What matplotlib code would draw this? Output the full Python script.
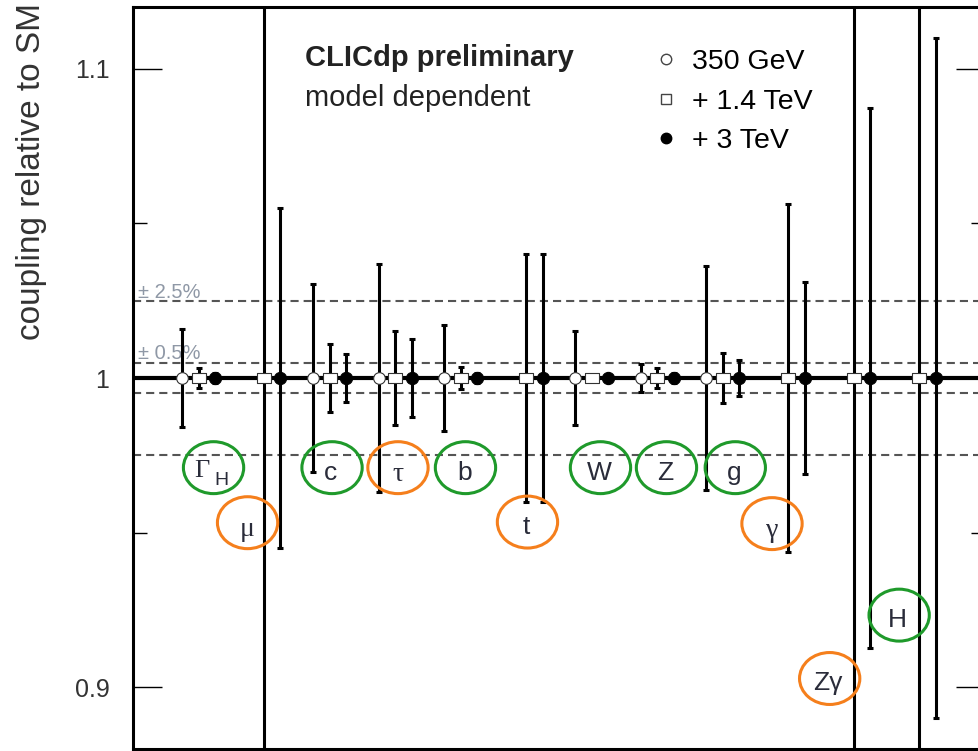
import numpy as np
import matplotlib
matplotlib.use("Agg")
import matplotlib.pyplot as plt
from matplotlib.patches import Ellipse
from matplotlib.lines import Line2D
from matplotlib.path import Path
from matplotlib.ticker import FixedLocator, FuncFormatter

plt.rcParams['font.family'] = ['Liberation Sans', 'DejaVu Sans']

nan = np.nan

# couplings, in plotting order
couplings = ['ΓH', 'μ', 'c', 'τ', 'b', 't', 'W', 'Z', 'g', 'γ', 'Zγ', 'H']
# relative uncertainty on each coupling (central values all at SM = 1)
err_350 = [0.0160, nan, 0.0305, 0.0368, 0.0170, nan, 0.0153, 0.0045, 0.0362, nan, nan, nan]
err_1400 = [0.0031, 0.150, 0.0110, 0.0153, 0.0037, 0.0400, 0.0010, 0.0032, 0.0082, 0.0562, 0.130, 0.200]
err_3000 = [0.0015, 0.0551, 0.0078, 0.0125, 0.0015, 0.0400, 0.0010, 0.0015, 0.0057, 0.0312, 0.0872, 0.1100]
stages = ['350 GeV', '+ 1.4 TeV', '+ 3 TeV']

# circled labels: text, colour group, ellipse centre
lab_text = ['Γ', 'μ', 'c', 'τ', 'b', 't', 'W', 'Z', 'g', 'γ', 'Zγ', 'H']
lab_kind = ['g', 'o', 'g', 'o', 'g', 'o', 'g', 'g', 'g', 'o', 'o', 'g']
lab_x = [0.229, 0.748, 2.037, 3.043, 4.073, 5.019, 6.133, 7.14, 8.19, 8.75, 9.63, 10.69]
lab_y = [0.971, 0.9532, 0.971, 0.971, 0.971, 0.9534, 0.971, 0.971, 0.971, 0.9529, 0.9028, 0.9233]

green = '#1f9a2b'
orange = '#f57f1c'
txt_col = '#2a2c3a'

fig = plt.figure(figsize=(9.79, 7.51), dpi=100)
ax = fig.add_axes([133 / 979, 2 / 751, 852 / 979, 742 / 751])

x = np.arange(len(couplings))
val = np.ones(len(couplings))
off = 0.25

# reference lines
ax.axhline(1.0, color='black', lw=3, zorder=2)
for lvl in [0.025, 0.005]:
    for s in [1, -1]:
        ax.axhline(1 + s * lvl, color='#555555', lw=1.5, ls=(0, (3.9, 2.4)), zorder=1)
ax.text(0.006, 1.025 - 0.0003, '± 2.5%', transform=ax.get_yaxis_transform(),
        color='#8f98a6', fontsize=14.5, va='bottom', ha='left')
ax.text(0.006, 1.005 - 0.0003, '± 0.5%', transform=ax.get_yaxis_transform(),
        color='#8f98a6', fontsize=14.5, va='bottom', ha='left')

rect = Path([(-1.3, -1), (1.3, -1), (1.3, 1), (-1.3, 1), (-1.3, -1)],
            [Path.MOVETO, Path.LINETO, Path.LINETO, Path.LINETO, Path.CLOSEPOLY])

series = [
    (x - off, np.array(err_350), dict(marker='o', ms=8.4, mfc='white', mec='#333333', mew=0.8)),
    (x, np.array(err_1400), dict(marker=rect, ms=10.2, mfc='white', mec='#333333', mew=0.8)),
    (x + off, np.array(err_3000), dict(marker='o', ms=8.8, mfc='black', mec='black', mew=0.8)),
]
for xs, err, mk in series:
    ok = ~np.isnan(err)
    ax.errorbar(xs[ok], val[ok], yerr=err[ok], fmt='none', ecolor='black',
                elinewidth=2.2, capsize=2.2, capthick=2.2, zorder=3)
    ax.plot(xs[ok], val[ok], ls='none', zorder=4, **mk)

# circled labels
for t, k, lx, ly in zip(lab_text, lab_kind, lab_x, lab_y):
    ax.add_patch(Ellipse((lx, ly), 0.92, 0.0168, fill=False,
                         edgecolor=green if k == 'g' else orange, lw=2.2, zorder=5))
    if t == 'Γ':
        ax.text(lx - 0.18, ly - 0.0002, 'Γ', family=['Liberation Serif'], fontsize=19,
                color=txt_col, ha='center', va='center_baseline', zorder=6)
        ax.text(lx + 0.12, ly - 0.0036, 'H', fontsize=14, color=txt_col,
                ha='center', va='center_baseline', zorder=6)
    elif t in ['μ', 'τ', 'γ']:
        ax.text(lx, ly - 0.0012, t, family=['Liberation Serif'], fontsize=20,
                color=txt_col, ha='center', va='center_baseline', zorder=6)
    else:
        ax.text(lx - 0.02, ly - 0.0008, t, fontsize=19, color=txt_col,
                ha='center', va='center_baseline', zorder=6)

# header text
ax.text(0.202, 0.931, 'CLICdp preliminary', transform=ax.transAxes, fontsize=21,
        fontweight='bold', color='#222222', va='center', ha='left')
ax.text(0.202, 0.877, 'model dependent', transform=ax.transAxes, fontsize=21,
        color='#222222', va='center', ha='left')

handles = [
    Line2D([], [], ls='none', marker='o', ms=7.5, mfc='white', mec='#444444', mew=1.0),
    Line2D([], [], ls='none', marker='s', ms=7.5, mfc='white', mec='#444444', mew=1.0),
    Line2D([], [], ls='none', marker='o', ms=7.5, mfc='black', mec='black'),
]
ax.legend(handles, stages, loc='upper left', bbox_to_anchor=(0.609, 0.943), frameon=False,
          fontsize=20.5, handlelength=1.0, handletextpad=0.4, labelspacing=0.47,
          borderaxespad=0, borderpad=0)

ax.set_xlim(-1, 12)
ax.set_ylim(0.88, 1.12)
ax.set_xticks([])
ax.yaxis.set_major_locator(FixedLocator([0.9, 1.0, 1.1]))
ax.yaxis.set_minor_locator(FixedLocator([0.95, 1.05]))
ax.yaxis.set_major_formatter(FuncFormatter(lambda v, p: '%g' % round(v, 3)))
ax.tick_params(axis='y', which='both', direction='in', left=True, right=True,
               labelsize=18, labelcolor='#333333', pad=17)
ax.tick_params(axis='y', which='major', length=21, width=1.0)
ax.tick_params(axis='y', which='minor', length=10, width=1.0)
for sp in ax.spines.values():
    sp.set_linewidth(2.2)

fig.text(32 / 979, 1 - 3 / 751, 'coupling relative to SM', rotation=90, fontsize=24,
         color='#333333', ha='center', va='top')

fig.savefig('out.png', dpi=100)
